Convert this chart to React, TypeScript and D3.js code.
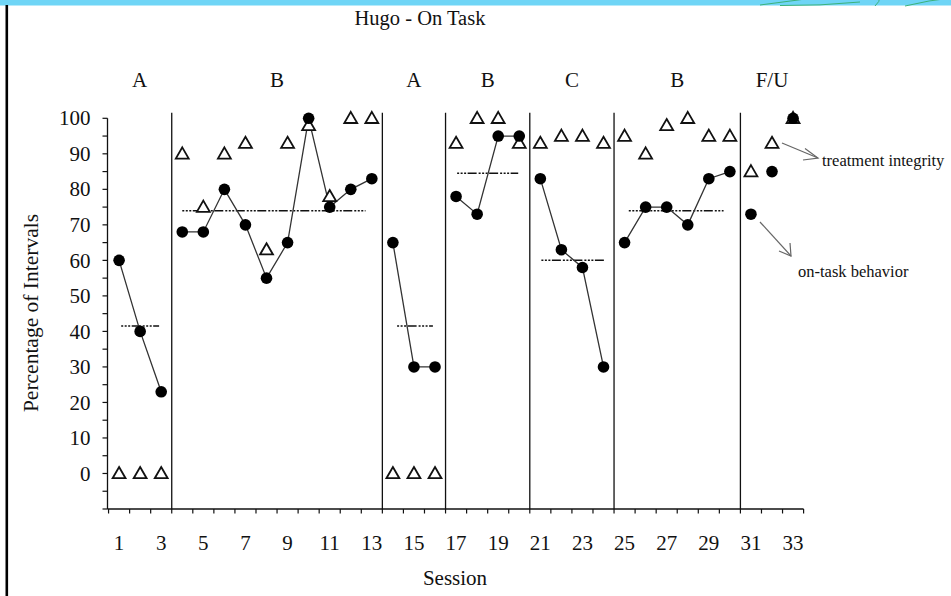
import React from "react";
import * as d3 from "d3";

// ---- data ----
const sessions = d3.range(1, 34);
const onTask: (number | null)[] = [
  60, 40, 23,
  68, 68, 80, 70, 55, 65, 100, 75, 80, 83,
  65, 30, 30,
  78, 73, 95, 95,
  83, 63, 58, 30,
  65, 75, 75, 70, 83, 85,
  73, 85, 100,
];
const integrity: number[] = [
  0, 0, 0,
  90, 75, 90, 93, 63, 93, 98, 78, 100, 100,
  0, 0, 0,
  93, 100, 100, 93,
  93, 95, 95, 93,
  95, 90, 98, 100, 95, 95,
  85, 93, 100,
];
const phaseLabels = ["A", "B", "A", "B", "C", "B", "F/U"];
const phaseStart = [1, 4, 14, 17, 21, 25, 31];
const phaseEnd = [3, 13, 16, 20, 24, 30, 33];
const connected = [true, true, true, true, true, true, false];
const phaseMeans = [41.5, 74, 41.5, 84.5, 60, 74];
const meanFrom = [1.1, 4, 14.2, 17.05, 21.05, 25.2];
const meanTo = [2.9, 12.7, 15.9, 19.95, 24.1, 29.7];
const yTicks = d3.range(-10, 101, 5);
const yLabels = d3.range(0, 101, 10);
const xLabels = d3.range(1, 34, 2);
const xTicks = d3.range(0.5, 34, 1);

const W = 951;
const H = 596;
const FONT = "'Liberation Serif', 'Times New Roman', serif";

export default function App() {
  const x = d3.scaleLinear().domain([0.45, 33.5]).range([107.5, 803.6]);
  const y = d3.scaleLinear().domain([-10, 100]).range([509, 118.3]);
  const axisX = x(0.45);
  const axisY = y(-10);
  const xEnd = x(33.5);

  const line = d3
    .line<[number, number]>()
    .x((d) => x(d[0]))
    .y((d) => y(d[1]));

  const tri = d3.symbol().type(d3.symbolTriangle).size(72)();

  const boundaries = phaseEnd.slice(0, -1).map((e) => e + 0.5);
  const phaseEdges = [axisX, ...boundaries.map((b) => x(b)), xEnd];

  return (
    <svg
      width={W}
      height={H}
      style={{ position: "absolute", left: 0, top: 0, background: "#fff" }}
      fontFamily={FONT}
    >
      <rect x={0} y={0} width={W} height={H} fill="#fff" />
      {/* banner */}
      <rect x={0} y={0} width={W} height={5.5} fill="#6fd5f6" />
      <g fill="none" stroke="#3bb27a" strokeWidth={1}>
        <path d="M760,5 Q800,0 840,-6" />
        <path d="M780,5.5 Q820,6 860,2" />
        <path d="M875,6 Q880,2 880,-4" />
        <path d="M905,6 Q930,0 951,-2" />
      </g>
      {/* left border */}
      <line x1={6.8} x2={6.8} y1={5} y2={H} stroke="#000" strokeWidth={2.6} />

      {/* title */}
      <text x={420} y={25} fontSize={20.5} textAnchor="middle" fill="#111">
        Hugo - On Task
      </text>

      {/* phase labels */}
      {phaseLabels.map((p, i) => (
        <text
          key={"pl" + i}
          x={(phaseEdges[i] + phaseEdges[i + 1]) / 2}
          y={87}
          fontSize={21}
          textAnchor="middle"
          fill="#111"
        >
          {p}
        </text>
      ))}

      {/* phase change lines */}
      {boundaries.map((b, i) => (
        <line
          key={"pb" + i}
          x1={x(b)}
          x2={x(b)}
          y1={112.7}
          y2={axisY}
          stroke="#111"
          strokeWidth={1.3}
        />
      ))}

      {/* y axis */}
      <line x1={axisX} x2={axisX} y1={y(100)} y2={axisY} stroke="#111" strokeWidth={1.3} />
      {yTicks.map((t) => (
        <line
          key={"yt" + t}
          x1={axisX - 5}
          x2={axisX}
          y1={y(t)}
          y2={y(t)}
          stroke="#111"
          strokeWidth={1.2}
        />
      ))}
      {yLabels.map((t) => (
        <text
          key={"yl" + t}
          x={axisX - 17}
          y={y(t)}
          dy="0.34em"
          fontSize={21}
          textAnchor="end"
          fill="#111"
        >
          {t}
        </text>
      ))}
      <text
        transform={`translate(31,313) rotate(-90)`}
        fontSize={21.5}
        textAnchor="middle"
        dy="0.34em"
        fill="#111"
      >
        Percentage of Intervals
      </text>

      {/* x axis */}
      <line x1={axisX} x2={xEnd} y1={axisY} y2={axisY} stroke="#111" strokeWidth={1.3} />
      {xTicks.map((t) => (
        <line
          key={"xt" + t}
          x1={x(t)}
          x2={x(t)}
          y1={axisY}
          y2={axisY + 4.5}
          stroke="#111"
          strokeWidth={1.2}
        />
      ))}
      {xLabels.map((t) => (
        <text key={"xl" + t} x={x(t)} y={550} fontSize={21} textAnchor="middle" fill="#111">
          {t}
        </text>
      ))}
      <text x={455} y={585} fontSize={21} textAnchor="middle" fill="#111">
        Session
      </text>

      {/* mean lines */}
      {phaseMeans.map((m, i) => (
        <line
          key={"mn" + i}
          x1={x(meanFrom[i])}
          x2={x(meanTo[i])}
          y1={y(m)}
          y2={y(m)}
          stroke="#111"
          strokeWidth={1.5}
          strokeDasharray="2,1.5,2,1.5,2,1.5,9,2"
        />
      ))}

      {/* on-task lines */}
      {phaseStart.map((s, i) =>
        connected[i] ? (
          <path
            key={"ln" + i}
            d={
              line(
                d3
                  .range(s, phaseEnd[i] + 1)
                  .map((k) => [k, onTask[k - 1] as number] as [number, number])
              ) || ""
            }
            fill="none"
            stroke="#333"
            strokeWidth={1.3}
          />
        ) : null
      )}

      {/* integrity triangles */}
      {sessions.map((s, i) => (
        <path
          key={"tr" + s}
          d={tri || ""}
          transform={`translate(${x(s)},${y(integrity[i]) + 1})`}
          fill="#fff"
          stroke="#111"
          strokeWidth={1.8}
        />
      ))}

      {/* on-task circles */}
      {sessions.map((s, i) =>
        onTask[i] == null ? null : (
          <circle key={"c" + s} cx={x(s)} cy={y(onTask[i] as number)} r={5.8} fill="#000" />
        )
      )}

      {/* annotations */}
      <g stroke="#666" strokeWidth={1.2} fill="none">
        <line x1={782} y1={143} x2={818} y2={158} />
        <path d="M805,148.5 L818,158 L803,160" />
        <line x1={760} y1={222} x2={791} y2={256} />
        <path d="M790,243 L791,256 L779,251" />
      </g>
      <text x={822} y={166} fontSize={16.5} fill="#111">
        treatment integrity
      </text>
      <text x={798} y={277} fontSize={16.5} fill="#111">
        on-task behavior
      </text>
    </svg>
  );
}
